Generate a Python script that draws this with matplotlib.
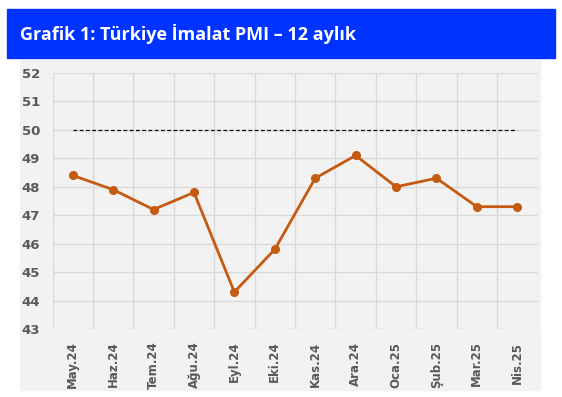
import matplotlib.pyplot as plt
import matplotlib.patches as patches
import numpy as np

months = ["May.24", "Haz.24", "Tem.24", "Ağu.24", "Eyl.24", "Eki.24",
          "Kas.24", "Ara.24", "Oca.25", "Şub.25", "Mar.25", "Nis.25"]
pmi = [48.4, 47.9, 47.2, 47.8, 44.3, 45.8, 48.3, 49.1, 48.0, 48.3, 47.3, 47.3]
threshold = [50] * len(months)

W, H = 562, 397
fig = plt.figure(figsize=(W / 100, H / 100), dpi=100)
fig.patch.set_facecolor("white")

# blue header bar and grey panel
fig.add_artist(patches.Rectangle((7 / W, 1 - 58 / H), 548 / W, 49 / H,
                                 transform=fig.transFigure, color="#0033ff", zorder=0))
fig.add_artist(patches.Rectangle((20 / W, 1 - 390 / H), 520 / W, 330 / H,
                                 transform=fig.transFigure, color="#f2f2f2", zorder=0))
fig.text(20 / W, 1 - 34 / H, "Grafik 1: Türkiye İmalat PMI – 12 aylık",
         color="white", fontsize=13, fontweight="bold", family="Open Sans", va="center")

ax = fig.add_axes([52.5 / W, 1 - 329 / H, 485 / W, 256 / H])
ax.set_facecolor("#f2f2f2")

x = np.arange(len(months))
ax.plot(x, threshold, color="black", linestyle=(0, (3, 2)), linewidth=0.9)
ax.plot(x, pmi, color="#c55a11", linewidth=2, marker="o", markersize=5.5, clip_on=False)

ax.set_xlim(-0.5, len(months) - 0.5)
ax.set_ylim(43, 52)
ax.set_yticks(range(43, 53))
ax.set_xticks(x)
ax.set_xticklabels(months, rotation=90)
ax.set_xticks(np.arange(-0.5, len(months) + 0.5), minor=True)
ax.grid(True, axis="y", color="#d9d9d9", linewidth=1)
ax.grid(True, axis="x", which="minor", color="#d9d9d9", linewidth=1)
ax.set_axisbelow(True)
ax.tick_params(axis="both", which="both", length=0)
ax.tick_params(axis="x", which="major", pad=9)
ax.tick_params(axis="y", which="major", pad=9)
for lab in ax.get_xticklabels():
    lab.set_color("#595959")
    lab.set_fontweight("bold")
    lab.set_fontsize(8.5)
for lab in ax.get_yticklabels():
    lab.set_color("#595959")
    lab.set_fontweight("bold")
    lab.set_fontsize(9.5)
for s in ax.spines.values():
    s.set_visible(False)

fig.savefig("out.png", dpi=100)
